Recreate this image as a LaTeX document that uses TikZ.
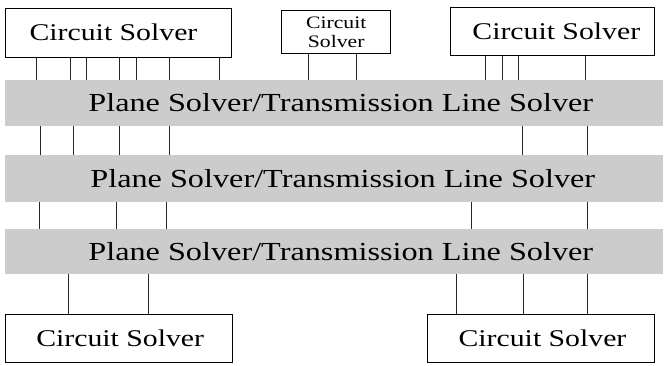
\documentclass[tikz,border=0pt]{standalone}
\usepackage{fontspec}
\setmainfont{Liberation Serif}
\newfontfamily\widefont[FakeStretch=1.24]{Liberation Serif}
\begin{document}
\begin{tikzpicture}[x=1pt,y=-1pt,
  csbox/.style={draw=black,line width=0.9pt,fill=white,inner sep=0pt,font=\widefont\fontsize{24}{26}\selectfont},
  band/.style={fill=black!20,draw=none,inner sep=0pt,minimum width=657.7pt,font=\widefont\fontsize{26}{28}\selectfont},
  conn/.style={draw=black!85,line width=0.9pt}]
\useasboundingbox (0,0) rectangle (665,366);
\node[csbox,minimum width=226pt,minimum height=49pt] (tl) at (118,32.5) {Circuit Solver\hspace*{9pt}};
\node[csbox,minimum width=109pt,minimum height=43.3pt,align=center,font=\widefont\fontsize{17.5}{19}\selectfont] (tm) at (336.2,32.3) {Circuit\\Solver};
\node[csbox,minimum width=203.3pt,minimum height=48.4pt] (tr) at (552.3,31.5) {\hspace*{8pt}Circuit Solver};
\node[band,minimum height=46pt] (b1) at (333.8,103) {\hspace*{14pt}Plane Solver/Transmission Line Solver};
\node[band,minimum height=46.7pt] (b2) at (333.8,178.3) {\hspace*{18pt}Plane Solver/Transmission Line Solver};
\node[band,minimum height=45pt] (b3) at (333.8,251.8) {\hspace*{14pt}Plane Solver/Transmission Line Solver};
\node[csbox,minimum width=227.3pt,minimum height=48.4pt] (bl) at (118.7,338.5) {\hspace*{3pt}Circuit Solver};
\node[csbox,minimum width=227pt,minimum height=48.4pt] (br) at (540.5,338.5) {\hspace*{4pt}Circuit Solver};
\foreach \x in {36.7,70,86,119.3,136,169.3,219.3}
  \draw[conn] (\x,0 |- tl.south) -- (\x,0 |- b1.north);
\foreach \x in {308.3,356}
  \draw[conn] (\x,0 |- tm.south) -- (\x,0 |- b1.north);
\foreach \x in {485.3,502,518.7,585.3}
  \draw[conn] (\x,0 |- tr.south) -- (\x,0 |- b1.north);
\foreach \x in {40.7,73.3,119.3,169,522.3,587.7}
  \draw[conn] (\x,0 |- b1.south) -- (\x,0 |- b2.north);
\foreach \x in {39,116,166,471.7,587.7}
  \draw[conn] (\x,0 |- b2.south) -- (\x,0 |- b3.north);
\foreach \x in {68.3,148.7}
  \draw[conn] (\x,0 |- b3.south) -- (\x,0 |- bl.north);
\foreach \x in {456.3,523.3,587}
  \draw[conn] (\x,0 |- b3.south) -- (\x,0 |- br.north);
\end{tikzpicture}
\end{document}
